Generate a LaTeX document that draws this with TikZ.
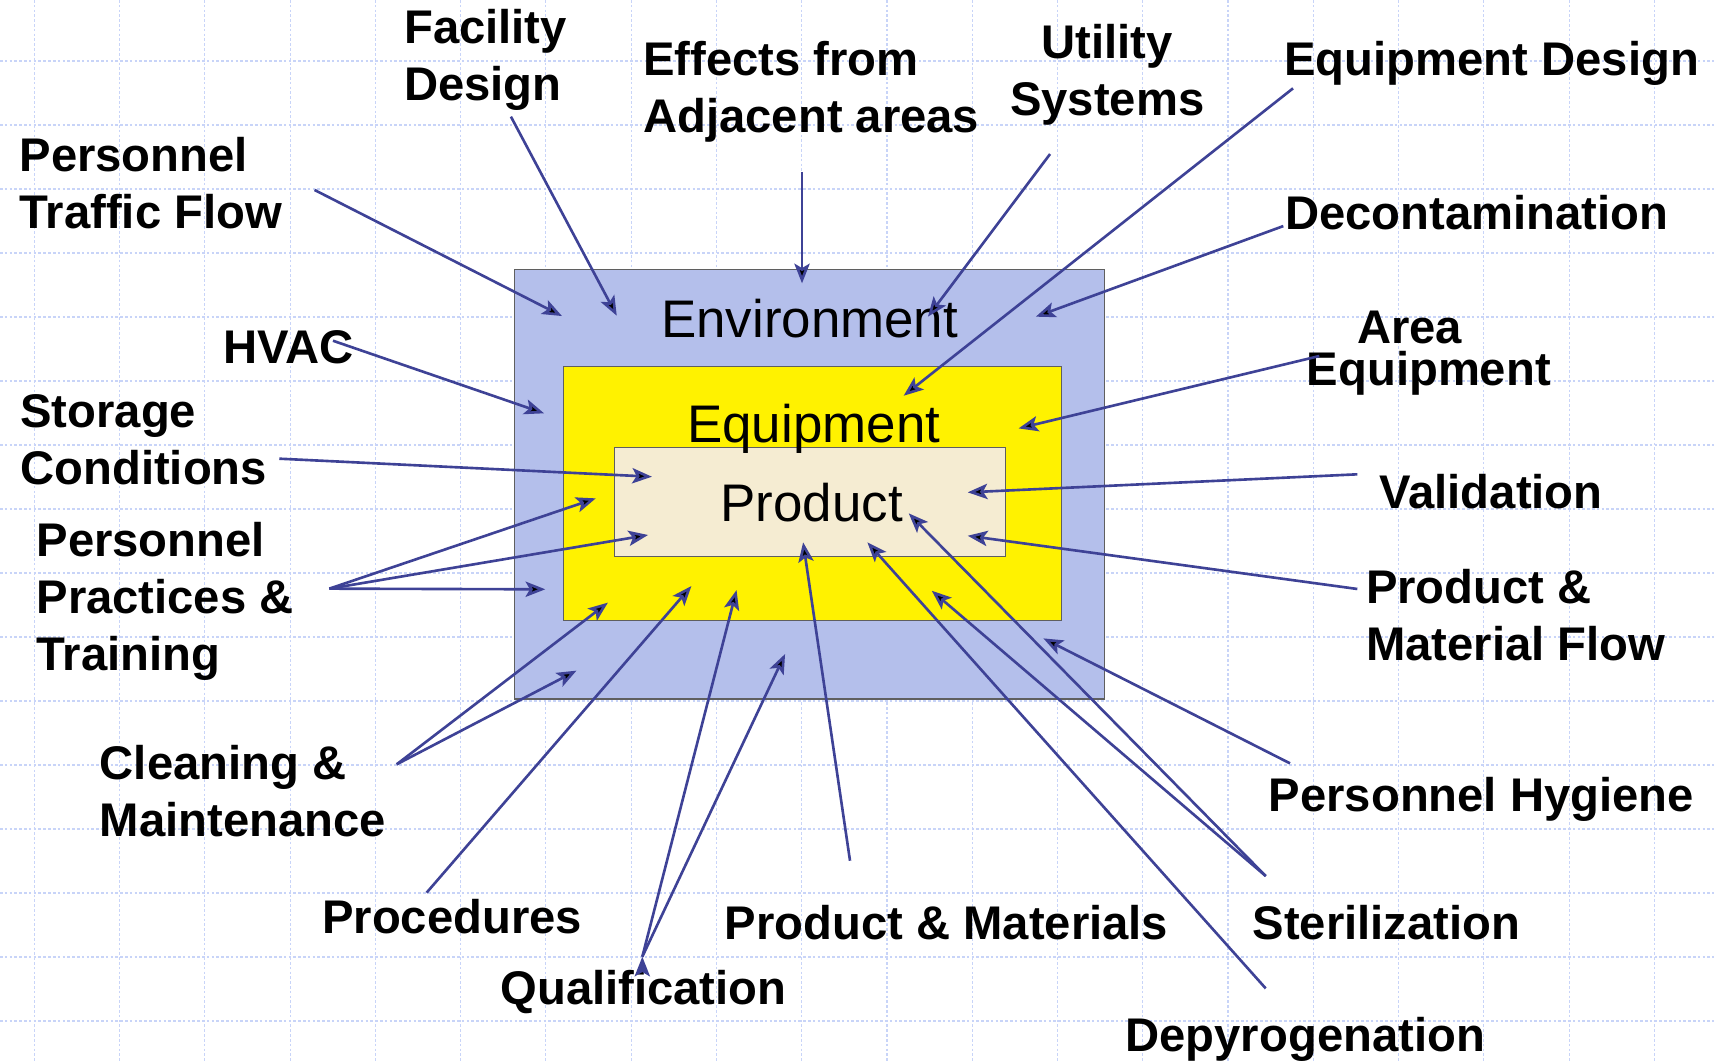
\documentclass[tikz,border=0pt]{standalone}
\usepackage{fontspec}
\setmainfont{Liberation Sans}
\usetikzlibrary{arrows.meta}

\definecolor{gridblue}{RGB}{200,212,248}
\definecolor{envblue}{RGB}{180,191,235}
\definecolor{prodbeige}{RGB}{245,236,210}
\definecolor{arrowblue}{RGB}{62,66,150}
\definecolor{boxgray}{RGB}{95,95,95}

\begin{document}
\begin{tikzpicture}[x=0.5pt,y=-0.5pt,->,>={Stealth[length=9pt,width=7pt,inset=2pt]},
	grid line/.style={-,draw=gridblue,line width=0.5pt,dash pattern=on 1.2pt off 1pt},
	zone/.style={-,draw=boxgray,line width=0.6pt},
	zone node/.style={anchor=base west,inner sep=0pt,font=\fontsize{24.2}{29}\selectfont},
	factor node/.style={anchor=base west,inner sep=0pt,align=left,
		font=\fontsize{21.6}{26}\selectfont\bfseries}]
	
	\useasboundingbox (0,0) rectangle (1568,971);
	
	% background grid
	\foreach \gx in {0,...,19}
	\draw[grid line] (31.4+78*\gx,0) -- (31.4+78*\gx,971);
	\foreach \gy in {0,...,15}
	\draw[grid line] (0,55.8+58.55*\gy) -- (1568,55.8+58.55*\gy);
	
	% nested zones
	\draw[zone,fill=envblue] (470.4,246.4) rectangle (1010.6,639.5);
	\draw[zone,fill=yellow] (515.5,335.4) rectangle (971,567.8);
	\draw[zone,fill=prodbeige] (562.4,409.5) rectangle (919.9,509.3);
	
	\node[zone node] (env) at (604.4,308.6) {Environment};
	\node[zone node] (equip) at (628.3,405) {Equipment};
	\node[zone node] (prod) at (658.7,477.2) {Product};
	
	% factors (base = last line)
	\node[factor node] (traffic) at (17.5,208.9) {Personnel\\Traffic Flow};
	\node[factor node] (facility) at (369.4,91.5) {Facility\\Design};
	\node[factor node] (effects) at (588.1,121.4) {Effects from\\Adjacent areas};
	\node[factor node,anchor=base,align=center] (utility) at (1013,105.2) {Utility\\Systems};
	\node[factor node] (eqdesign) at (1174.6,69.5) {Equipment Design};
	\node[factor node] (decon) at (1175.4,209.8) {Decontamination};
	\node[factor node] (hvac) at (204,332.4) {HVAC};
	\node[factor node] (area) at (1195.1,352.2) {\hspace*{23pt}Area\\[-6.9pt]Equipment};
	\node[factor node] (storage) at (18.3,443) {Storage\\Conditions};
	\node[factor node] (validation) at (1261.6,465) {Validation};
	\node[factor node] (practices) at (33,613) {Personnel\\Practices \&\\Training};
	\node[factor node] (flow) at (1249.3,604.4) {Product \&\\Material Flow};
	\node[factor node] (cleaning) at (90.9,765.4) {Cleaning \&\\Maintenance};
	\node[factor node] (hygiene) at (1160.3,742.5) {Personnel Hygiene};
	\node[factor node] (procedures) at (294.3,853.8) {Procedures};
	\node[factor node] (prodmat) at (662.6,859.3) {Product \& Materials};
	\node[factor node] (sterilization) at (1145.6,859.3) {Sterilization};
	\node[factor node] (qualification) at (457.4,918.5) {Qualification};
	\node[factor node] (depyro) at (1029.2,962.1) {Depyrogenation};
	
	% arrow ends
	\coordinate (traffic-out) at (287.8,173.8);
	\coordinate (traffic-in) at (514.1,289.1);
	\coordinate (facility-out) at (467.4,106.7);
	\coordinate (facility-in) at (564.2,288.8);
	\coordinate (effects-out) at (733.7,157.6);
	\coordinate (effects-in) at (733.7,259.2);
	\coordinate (utility-out) at (960.6,140.9);
	\coordinate (utility-in) at (848.9,289.7);
	\coordinate (eqdesign-out) at (1182.9,80.8);
	\coordinate (eqdesign-in) at (826.7,362);
	\coordinate (decon-out) at (1174,206.8);
	\coordinate (decon-in) at (947.6,289.7);
	\coordinate (hvac-out) at (304.6,311.7);
	\coordinate (hvac-in) at (497.7,378.1);
	\coordinate (area-out) at (1206.9,325.7);
	\coordinate (area-in) at (931.8,391.9);
	\coordinate (storage-out) at (255.5,419.6);
	\coordinate (storage-in) at (596.4,436.1);
	\coordinate (validation-out) at (1241.7,433.9);
	\coordinate (validation-in) at (885.3,450.4);
	\coordinate (practices-out) at (301.3,538.5);
	\coordinate (practices-in1) at (545,455.9);
	\coordinate (practices-in2) at (592.9,489.4);
	\coordinate (practices-in3) at (498.8,539.1);
	\coordinate (flow-out) at (1241.7,538.8);
	\coordinate (flow-in) at (885.3,490.1);
	\coordinate (prodmat-out) at (777.6,787.4);
	\coordinate (prodmat-in) at (734.7,496.1);
	\coordinate (depyro-out) at (1157.9,904.2);
	\coordinate (depyro-in) at (793.5,496.1);
	\coordinate (sterilization-out) at (1157.9,801.4);
	\coordinate (sterilization-in1) at (831.3,469.6);
	\coordinate (sterilization-in2) at (852.4,540.4);
	\coordinate (hygiene-out) at (1180.1,698.3);
	\coordinate (hygiene-in) at (954.5,584);
	\coordinate (cleaning-out) at (362.9,699.2);
	\coordinate (cleaning-in1) at (556.1,551.3);
	\coordinate (cleaning-in2) at (527.4,613.5);
	\coordinate (procedures-out) at (390.3,816.6);
	\coordinate (procedures-in) at (632.5,536.1);
	\coordinate (qualification-out) at (587.6,875.2);
	\coordinate (qualification-in1) at (673.8,539.8);
	\coordinate (qualification-in2) at (718.2,598.3);
	
	\path[draw=arrowblue,line width=1.2pt]
	(traffic-out) edge (traffic-in)
	(facility-out) edge (facility-in)
	(effects-out) edge (effects-in)
	(utility-out) edge (utility-in)
	(eqdesign-out) edge (eqdesign-in)
	(decon-out) edge (decon-in)
	(hvac-out) edge (hvac-in)
	(area-out) edge (area-in)
	(storage-out) edge (storage-in)
	(validation-out) edge (validation-in)
	(practices-out) edge (practices-in1)
	edge (practices-in2)
	edge (practices-in3)
	(flow-out) edge (flow-in)
	(prodmat-out) edge (prodmat-in)
	(depyro-out) edge (depyro-in)
	(sterilization-out) edge (sterilization-in1)
	edge (sterilization-in2)
	(hygiene-out) edge (hygiene-in)
	(cleaning-out) edge (cleaning-in1)
	edge (cleaning-in2)
	(procedures-out) edge (procedures-in)
	(qualification-out) edge (qualification-in1)
	edge (qualification-in2);
	
\end{tikzpicture}
\end{document}
